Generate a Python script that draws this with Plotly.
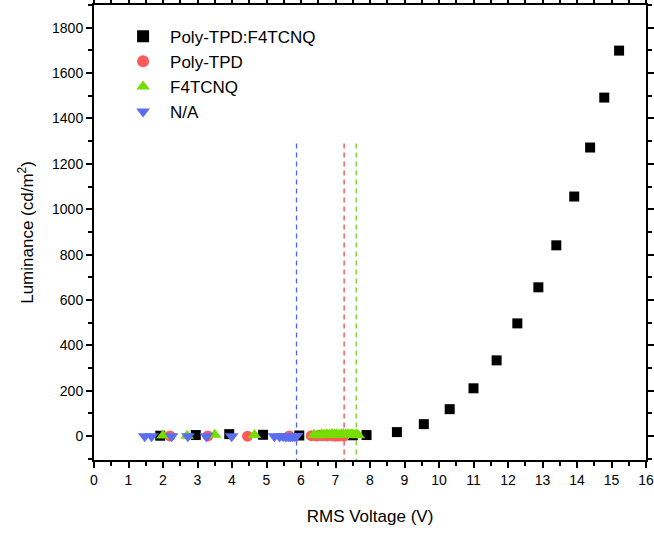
import plotly.graph_objects as go

# Poly-TPD:F4TCNQ (black squares)
pf_v = [1.92, 2.95, 3.92, 4.9, 5.95, 6.6, 7.1, 7.5, 7.9, 8.78, 9.56, 10.31, 11.0, 11.67, 12.27, 12.88, 13.40, 13.92, 14.38, 14.79, 15.22]
pf_l = [2, 5, 9, 6, 3, 4, 3, 4, 5, 18, 53, 119, 211, 334, 497, 656, 841, 1056, 1272, 1492, 1699]

# Poly-TPD (red circles)
p_v = [2.2, 3.3, 4.45, 5.66, 6.3, 6.45, 6.6, 6.75, 6.9, 7.0, 7.1, 7.2, 7.25]
p_l = [1, 1, 0, 1, 2, 1, 2, 1, 2, 0, 1, 2, 1]

# F4TCNQ (green triangles)
f_v = [2.0, 2.7, 3.5, 4.65, 6.38, 6.5, 6.6, 6.68, 6.75, 6.82, 6.9, 6.97, 7.03, 7.1, 7.17, 7.23, 7.3, 7.36, 7.42, 7.48, 7.54, 7.6, 7.66]
f_l = [3, 2, 6, 5, 6, 4, 8, 5, 9, 6, 10, 7, 9, 6, 8, 10, 7, 9, 6, 8, 5, 7, 4]

# N/A (blue down triangles)
n_v = [1.47, 1.67, 2.25, 2.72, 3.26, 3.99, 5.23, 5.38, 5.48, 5.56, 5.63, 5.7, 5.76, 5.82, 5.87]
n_l = [0, 0, 0, 0, 0, 0, 0, -1, 0, -1, 0, -1, 0, 0, 1]

# dashed threshold lines
vline_x = [5.87, 7.25, 7.6]
vline_top = 1300
vline_colors = ["#4a63f5", "#f04848", "#6fd41a"]

font_family = "Liberation Sans, Arial, sans-serif"

fig = go.Figure()
for x, c in zip(vline_x, vline_colors):
    fig.add_trace(go.Scatter(x=[x, x], y=[-120, vline_top], mode="lines",
                             line=dict(color=c, width=1.3, dash="5px,4px"),
                             showlegend=False, hoverinfo="skip"))

fig.add_trace(go.Scatter(x=pf_v, y=pf_l, mode="markers", name="Poly-TPD:F4TCNQ",
                         marker=dict(symbol="square", size=10, color="black")))
fig.add_trace(go.Scatter(x=p_v, y=p_l, mode="markers", name="Poly-TPD",
                         marker=dict(symbol="circle", size=11, color="#ff5a5a")))
fig.add_trace(go.Scatter(x=f_v, y=f_l, mode="markers", name="F4TCNQ",
                         marker=dict(symbol="triangle-up", size=12, color="#77dd00")))
fig.add_trace(go.Scatter(x=n_v, y=n_l, mode="markers", name="N/A",
                         marker=dict(symbol="triangle-down", size=12, color="#5b6ef0")))

axis_common = dict(showline=True, linecolor="black", linewidth=2, mirror="allticks",
                   ticks="outside", ticklen=6, tickwidth=1.5, tickcolor="black",
                   showgrid=False, zeroline=False, automargin=False,
                   ticklabeloverflow="allow",
                   tickfont=dict(family=font_family, size=14, color="black"))

fig.update_layout(
    width=654, height=533,
    margin=dict(l=94, r=8, t=5, b=73),
    plot_bgcolor="white", paper_bgcolor="white",
    font=dict(family=font_family, color="black"),
    xaxis=dict(range=[0, 16], dtick=1, tick0=0,
               minor=dict(dtick=0.5, ticks="outside", ticklen=4, tickcolor="black", tickwidth=1.5),
               title=dict(text="RMS Voltage (V)", font=dict(size=17), standoff=23),
               **axis_common),
    yaxis=dict(range=[-105, 1900], dtick=200, tick0=0,
               minor=dict(dtick=100, ticks="outside", ticklen=4, tickcolor="black", tickwidth=1.5),
               title=dict(text="Luminance (cd/m<sup>2</sup>)", font=dict(size=17), standoff=14),
               **axis_common),
    legend=dict(x=0.04, y=0.97, xanchor="left", yanchor="top",
                bgcolor="rgba(0,0,0,0)", borderwidth=0,
                font=dict(size=17, family=font_family), itemsizing="constant",
                itemwidth=44, tracegroupgap=1),
    showlegend=True,
)

fig.write_html("out.html")
